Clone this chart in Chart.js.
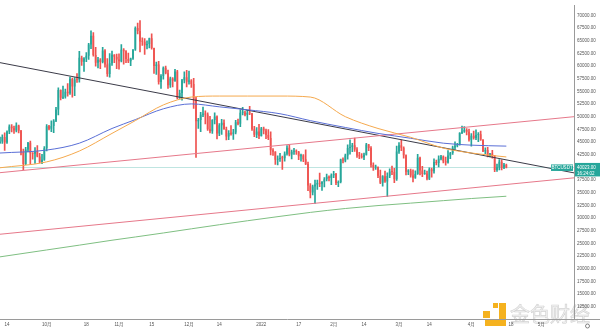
<!DOCTYPE html>
<html>
<head>
<meta charset="utf-8">
<script src="https://cdn.jsdelivr.net/npm/chart.js"></script>
<style>
  html, body { margin: 0; padding: 0; background: #fff; }
  canvas { display: block; }
</style>
</head>
<body>
<canvas id="btcChart" width="600" height="336"></canvas>
<script>
// BTCUSDT daily candles, 2021-09-11 .. 2022-04-16 (axis runs on to 2022-05-15)
const firstDay = '2021-09-11';
const lastAxisDay = '2022-05-15';
const firstOpen = 44850;

const closes = [
  // Sep
  45150, 46030, 44960, 47110, 48120, 47740, 47300, 48310, 47260, 43000, 40700, 43560, 44900, 42840, 42720, 43200, 42180, 41030, 41540, 43790,
  // Oct
  48140, 47640, 48200, 49220, 51470, 55320, 53790, 53950, 54950, 54660, 57470, 56000, 57370, 57350, 61670, 60880, 61530, 62040, 64280, 66000, 62210, 60690, 61290, 60850, 63080, 60330, 58460, 60590, 62250, 61860, 61320,
  // Nov
  61000, 63230, 62940, 61400, 61000, 61530, 63300, 67550, 66970, 64880, 64810, 64130, 64400, 65500, 63600, 60060, 60350, 56890, 58050, 59710, 58620, 56250, 57550, 57140, 58950, 53730, 54710, 57240, 57800, 56950,
  // Dec
  57180, 56480, 53600, 49150, 49400, 50440, 50590, 50470, 47550, 47140, 49390, 50050, 46700, 48340, 48860, 47630, 46130, 46830, 46680, 46910, 48940, 48620, 50820, 50840, 50430, 50810, 50680, 47540, 46460, 47120, 46220,
  // Jan
  47720, 47290, 46430, 45830, 43430, 43100, 41550, 41680, 41860, 41830, 42740, 43920, 42590, 43100, 43180, 43110, 42250, 42370, 41660, 40680, 36450, 35070, 36280, 36650, 36950, 36820, 37190, 37710, 38170, 37920, 38480,
  // Feb
  38740, 36950, 37150, 41570, 41380, 42400, 43840, 44040, 44380, 43570, 42400, 42210, 42050, 42540, 44540, 43870, 40520, 40000, 40090, 38380, 37020, 38270, 37250, 38330, 39220, 39110, 37700, 43160,
  // Mar
  44420, 43920, 42450, 39150, 39400, 38420, 37990, 38730, 41940, 39420, 38730, 38810, 37780, 39670, 39280, 41110, 40920, 41760, 42200, 41260, 41000, 42360, 42890, 43960, 44310, 44510, 46820, 47130, 47430, 47060, 45510,
  // Apr
  46280, 45810, 46400, 46580, 45500, 43170, 43440, 42250, 42750, 42160, 39530, 40070, 41150, 39940, 40550, 40023
];
const highs = [
  45990, 46460, 46870, 47250, 48450, 48490, 48160, 48820, 48370, 47330, 43640, 44000, 45000, 45200, 42970, 43940, 44350, 42790, 42600, 44130,
  48500, 48350, 49240, 49490, 51890, 55750, 55330, 56100, 55490, 56560, 57830, 57680, 57750, 58530, 62930, 62000, 61700, 62700, 64490, 67000, 66640, 63730, 61750, 61500, 63710, 63290, 61500, 62500, 62980, 62270, 62400,
  62420, 64280, 63500, 63090, 62590, 61600, 63300, 67790, 68530, 69000, 65600, 65450, 64990, 65550, 66400, 63600, 60800, 60950, 58350, 59860, 60000, 59250, 57860, 57730, 59380, 59200, 55300, 57420, 58870, 59200,
  59050, 57370, 57600, 53870, 49700, 50880, 51930, 51200, 50800, 50100, 49480, 50800, 50190, 48700, 49500, 49420, 47990, 47300, 48300, 47540, 49330, 49580, 51380, 51860, 51150, 51280, 52080, 50700, 48140, 47900, 48550,
  47940, 47990, 47570, 47500, 47070, 43750, 43150, 42300, 42790, 42250, 43100, 44320, 44460, 43460, 43790, 43480, 43200, 42680, 42580, 43500, 41100, 36830, 36560, 37550, 37550, 38920, 37230, 38000, 38720, 38360, 38740,
  39270, 38850, 37390, 41690, 41900, 42650, 44500, 45490, 44800, 45820, 43920, 43000, 42760, 42880, 44770, 44580, 44160, 40950, 40470, 40130, 39500, 38440, 39280, 38980, 39730, 40300, 39850, 44220,
  44950, 45400, 44100, 42500, 39600, 39700, 39550, 39360, 42590, 42050, 40250, 39480, 39300, 39950, 39880, 41720, 41480, 42330, 42400, 42300, 42050, 43360, 43020, 44250, 45090, 44800, 46900, 48190, 48100, 47700, 47600,
  46720, 47210, 47450, 46890, 47200, 45500, 43900, 43970, 42800, 43420, 42410, 40700, 41560, 41500, 40850, 40700
];
const lows = [
  44740, 44740, 43370, 44740, 46690, 47050, 46750, 47050, 46850, 42500, 39600, 40580, 43100, 40680, 41650, 40800, 42100, 40900, 40780, 41420,
  43280, 47420, 47100, 46900, 49050, 50380, 53370, 53610, 53680, 54100, 54410, 53880, 54170, 56820, 56850, 60150, 58960, 60880, 61320, 63480, 62000, 60000, 59670, 59500, 60650, 59820, 58000, 57820, 60170, 60710, 59500,
  59400, 60820, 60380, 60680, 60720, 60120, 61350, 63100, 66380, 62820, 64100, 62300, 63400, 63600, 63360, 58570, 58370, 56470, 55600, 57450, 58480, 55620, 55800, 55900, 56980, 53550, 53630, 53300, 56700, 55900,
  56450, 55830, 51680, 42000, 47730, 47100, 50030, 48630, 47320, 46850, 46760, 48630, 45670, 46290, 46550, 47520, 45460, 45520, 46400, 45560, 46630, 48420, 48050, 50380, 50180, 49420, 50450, 47310, 46100, 45900, 45680,
  46200, 46650, 45700, 45500, 42500, 42400, 40610, 40500, 41230, 39650, 41270, 42450, 42310, 41720, 42580, 42600, 41550, 41250, 41140, 40550, 35440, 34010, 34600, 32900, 35700, 36250, 35500, 36160, 37370, 37350, 36630,
  38000, 36600, 36250, 36980, 40900, 41120, 41650, 42650, 43120, 43200, 42000, 41750, 41870, 41570, 42430, 43310, 40070, 39450, 39640, 38000, 36800, 36350, 37050, 34320, 38000, 38600, 37000, 37450,
  42800, 43330, 41830, 38550, 38600, 38090, 37150, 37870, 38650, 38540, 38220, 38660, 37580, 37600, 38100, 38900, 40500, 40140, 41500, 40910, 40470, 40880, 41750, 42570, 43600, 44070, 44420, 46670, 46930, 46440, 45200,
  44210, 45620, 45520, 45120, 45350, 43120, 42730, 42110, 42120, 41870, 39200, 39250, 39550, 39550, 39770, 39950
];
// daily open = previous close on this feed
const opens = [firstOpen, ...closes.slice(0, -1)];

// moving averages at a few dates
const maDates = ['2021-09-11', '2021-10-01', '2021-10-15', '2021-10-29', '2021-11-08', '2021-11-20', '2021-12-02', '2021-12-14', '2021-12-26',
  '2022-01-09', '2022-01-22', '2022-02-06', '2022-02-20', '2022-03-06', '2022-03-20', '2022-04-01', '2022-04-16'];
const maBlue   = [42870, 43450, 44810, 47710, 49460, 51590, 52560, 51980, 51400, 50620, 49260, 47910, 46740, 45780, 44810, 44420, 44230];
const maOrange = [39960, 41120, 43260, 46740, 49260, 52360, 53910, 54110, 54110, 54110, 53910, 50040, 47710, 45970, 43840, 42870, 42090];
const maGreen  = [22380, 23740, 24690, 25660, 26300, 27090, 27910, 28720, 29500, 30370, 31150, 31920, 32500, 32980, 33470, 33890, 34340];

// hand-drawn trend lines: value at first and last axis day
const channelTop = [38990, 50040];
const channelBottom = [26840, 37970];
const downTrend = [60700, 38950];

const yTicks = [12500, 15000, 17500, 20000, 22500, 25000, 27500, 30000, 32500, 35000, 37500, 40000,
  42500, 45000, 47500, 50000, 52500, 55000, 57500, 60000, 62500, 65000, 67500, 70000];
const tickDates = ['2021-09-14', '2021-10-01', '2021-10-18', '2021-11-01', '2021-11-15', '2021-12-01', '2021-12-14', '2022-01-01',
  '2022-01-17', '2022-02-01', '2022-02-14', '2022-03-01', '2022-03-14', '2022-04-01', '2022-04-18', '2022-05-01'];
const tickTexts = ['14', '10月', '18', '11月', '15', '12月', '14', '2022', '17', '2月', '14', '3月', '14', '4月', '18', '5月'];

const symbol = 'BTCUSDT';
const lastPrice = 40023;
const countdown = '16:24:02';

const up = '#26a69a';
const down = '#ef5350';
const axisColor = '#9a9a9a';
const fontFamily = '"Liberation Sans", Arial, "Noto Sans CJK SC", sans-serif';

function dayList(from, to) {
  const out = [];
  let d = new Date(from + 'T00:00:00Z');
  const end = new Date(to + 'T00:00:00Z');
  while (d <= end) {
    out.push(d.toISOString().slice(0, 10));
    d = new Date(d.getTime() + 86400000);
  }
  return out;
}

const labels = dayList(firstDay, lastAxisDay);
const candleColors = closes.map((c, i) => (c >= opens[i] ? up : down));
const lastDay = labels[labels.length - 1];

function maLine(values, color) {
  return {
    type: 'line',
    data: values.map((v, i) => ({ x: maDates[i], y: v })),
    borderColor: color,
    borderWidth: 1,
    pointRadius: 0,
    cubicInterpolationMode: 'monotone',
    order: 0
  };
}
function trendLine(ends, color) {
  return {
    type: 'line',
    data: [{ x: firstDay, y: ends[0] }, { x: lastDay, y: ends[1] }],
    borderColor: color,
    borderWidth: 1,
    pointRadius: 0,
    tension: 0,
    order: 0
  };
}

const overlay = {
  id: 'overlay',
  beforeDraw(chart) {
    // 金色财经 watermark
    const ctx = chart.ctx;
    ctx.save();
    ctx.fillStyle = '#f5b21f';
    ctx.fillRect(483, 311, 7, 7);
    ctx.fillRect(493, 303, 5, 5);
    ctx.fillRect(499, 303, 7, 22);
    ctx.fillRect(485, 320, 21, 6);
    ctx.font = '20px "Noto Sans CJK SC", sans-serif';
    ctx.textBaseline = 'middle';
    ctx.fillStyle = '#f3f3f3';
    ctx.strokeStyle = '#d4d4d4';
    ctx.lineWidth = 0.7;
    ctx.fillText('金色财经', 510, 314);
    ctx.strokeText('金色财经', 510, 314);
    ctx.restore();
  },
  beforeDatasetsDraw(chart) {
    const { ctx, chartArea, scales } = chart;
    const y = Math.round(scales.y.getPixelForValue(lastPrice)) + 0.5;
    ctx.save();
    ctx.strokeStyle = '#bfe5e1';
    ctx.lineWidth = 1;
    ctx.beginPath();
    ctx.moveTo(chartArea.left, y);
    ctx.lineTo(chartArea.right, y);
    ctx.stroke();
    ctx.restore();
  },
  afterDraw(chart) {
    const { ctx, chartArea, scales } = chart;
    const y = scales.y.getPixelForValue(lastPrice);
    ctx.save();
    ctx.strokeStyle = axisColor;
    ctx.lineWidth = 1;
    ctx.beginPath();
    ctx.moveTo(chartArea.right, chartArea.bottom + 0.5);
    ctx.lineTo(chart.width, chartArea.bottom + 0.5);
    ctx.stroke();
    // symbol tag and last price tag
    ctx.fillStyle = up;
    ctx.fillRect(chartArea.right - 23, y - 3, 22, 6.5);
    ctx.fillRect(chartArea.right + 1, y - 4.5, chart.width - chartArea.right - 1, 13.5);
    ctx.fillStyle = '#ffffff';
    ctx.font = '4.5px ' + fontFamily;
    ctx.textBaseline = 'middle';
    ctx.textAlign = 'center';
    ctx.fillText(symbol, chartArea.right - 12, y + 0.3);
    ctx.textAlign = 'left';
    ctx.fillText(lastPrice.toFixed(2), chartArea.right + 3, y);
    ctx.fillText(countdown, chartArea.right + 3, y + 6);
    // settings icon
    ctx.strokeStyle = '#666';
    ctx.lineWidth = 0.8;
    ctx.beginPath();
    ctx.arc(587.5, 326, 2, 0, Math.PI * 2);
    ctx.stroke();
    ctx.restore();
  }
};

new Chart(document.getElementById('btcChart'), {
  type: 'bar',
  data: {
    labels: labels,
    datasets: [
      {
        label: 'wick',
        data: lows.map((l, i) => [l, highs[i]]),
        backgroundColor: candleColors,
        barThickness: 1,
        grouped: false,
        order: 2
      },
      {
        label: 'body',
        data: opens.map((o, i) => [o, closes[i]]),
        backgroundColor: candleColors,
        barPercentage: 0.72,
        categoryPercentage: 1,
        minBarLength: 1,
        grouped: false,
        order: 1
      },
      maLine(maGreen, '#7fbf82'),
      maLine(maOrange, '#f5a94e'),
      maLine(maBlue, '#5a6fd6'),
      trendLine(channelTop, '#e6788a'),
      trendLine(channelBottom, '#e6788a'),
      trendLine(downTrend, '#3b3b48')
    ]
  },
  options: {
    responsive: false,
    animation: false,
    events: [],
    layout: { padding: 0 },
    plugins: {
      legend: { display: false },
      tooltip: { enabled: false }
    },
    scales: {
      x: {
        offset: false,
        grid: { display: false, drawTicks: false, offset: false },
        border: { display: true, color: axisColor, width: 1 },
        afterBuildTicks: (scale) => {
          scale.ticks = scale.ticks.filter(t => tickDates.includes(labels[t.value]));
        },
        afterFit: (scale) => { scale.height = 17; },
        ticks: {
          autoSkip: false,
          maxRotation: 0,
          padding: 3,
          color: '#555',
          font: { size: 4.5, family: fontFamily },
          callback: (value) => tickTexts[tickDates.indexOf(labels[value])]
        }
      },
      y: {
        position: 'right',
        min: 10116,
        max: 71938,
        grid: { display: false, drawTicks: false },
        border: { display: true, color: axisColor, width: 1 },
        afterBuildTicks: (scale) => {
          scale.ticks = yTicks.map(v => ({ value: v }));
        },
        afterFit: (scale) => { scale.width = 26; },
        ticks: {
          padding: 3,
          color: '#555',
          font: { size: 4.5, family: fontFamily },
          callback: (value) => Number(value).toFixed(2)
        }
      }
    }
  },
  plugins: [overlay]
});
</script>
</body>
</html>
